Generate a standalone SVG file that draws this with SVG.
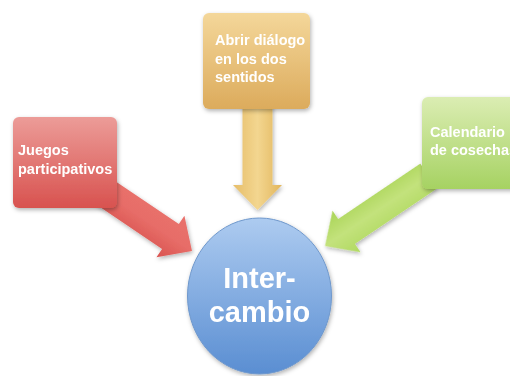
<svg xmlns="http://www.w3.org/2000/svg" width="510" height="376" viewBox="0 0 510 376">
<style>
.t{font-family:"Liberation Sans",Arial,sans-serif;font-weight:bold;fill:#ffffff}
.s{font-size:14.5px}
.b{font-size:29px}
</style>
<defs>
<linearGradient id="gr" x1="0" y1="0" x2="0" y2="1"><stop offset="0" stop-color="#ec9c98"/><stop offset="1" stop-color="#d8524f"/></linearGradient>
<linearGradient id="gy" x1="0" y1="0" x2="0" y2="1"><stop offset="0" stop-color="#f4d79a"/><stop offset="1" stop-color="#dcab5c"/></linearGradient>
<linearGradient id="gg" x1="0" y1="0" x2="0" y2="1"><stop offset="0" stop-color="#dbedb3"/><stop offset="1" stop-color="#a6d262"/></linearGradient>
<linearGradient id="gb" x1="0" y1="0" x2="0" y2="1"><stop offset="0" stop-color="#adcbf0"/><stop offset="1" stop-color="#5a8ed2"/></linearGradient>
<linearGradient id="ar" x1="0" y1="0" x2="0" y2="1"><stop offset="0" stop-color="#e9716c"/><stop offset="0.5" stop-color="#e76d68"/><stop offset="1" stop-color="#d9534f"/></linearGradient>
<linearGradient id="ay" x1="0" y1="0" x2="1" y2="0"><stop offset="0" stop-color="#e6bd68"/><stop offset="0.5" stop-color="#f3d690"/><stop offset="1" stop-color="#e2b65c"/></linearGradient>
<linearGradient id="ag" x1="0" y1="0" x2="0" y2="1"><stop offset="0" stop-color="#b0d960"/><stop offset="0.5" stop-color="#c3e27c"/><stop offset="1" stop-color="#a9d456"/></linearGradient>
<filter id="sh" x="-20%" y="-20%" width="140%" height="140%"><feDropShadow dx="1" dy="2" stdDeviation="2" flood-color="#000" flood-opacity="0.3"/></filter>
</defs>
<g id="connectors" filter="url(#sh)">
<polygon fill="url(#ar)" transform="translate(192,251) rotate(34) translate(-120,0)" points="0,-15 94,-15 94,-25 120,0 94,25 94,15 0,15"/>
<polygon fill="url(#ay)" points="242.5,100 272.5,100 272.5,185 282,185 257.5,210 233,185 242.5,185"/>
<polygon fill="url(#ag)" transform="translate(325,246) rotate(146) translate(-125,0)" points="0,-15 99,-15 99,-25 125,0 99,25 99,15 0,15"/>
</g>
<g id="juegos">
<rect x="13" y="117" width="104" height="91" rx="6" fill="url(#gr)" filter="url(#sh)"/>
<text class="t s" x="18" y="155">Juegos</text>
<text class="t s" x="18" y="174">participativos</text>
</g>
<g id="abrir">
<rect x="203" y="13" width="107" height="96" rx="6" fill="url(#gy)" filter="url(#sh)"/>
<text class="t s" x="215" y="45">Abrir diálogo</text>
<text class="t s" x="215" y="63.5">en los dos</text>
<text class="t s" x="215" y="82">sentidos</text>
</g>
<g id="calendario">
<rect x="422" y="97" width="110" height="92" rx="6" fill="url(#gg)" filter="url(#sh)"/>
<text class="t s" x="430" y="137">Calendario</text>
<text class="t s" x="430" y="155">de cosechas</text>
</g>
<g id="intercambio">
<ellipse cx="259.5" cy="296" rx="72" ry="78" fill="url(#gb)" stroke="#6f98cc" stroke-width="1" filter="url(#sh)"/>
<text class="t b" x="259.5" y="288" text-anchor="middle">Inter-</text>
<text class="t b" x="259.5" y="322" text-anchor="middle">cambio</text>
</g>
</svg>
